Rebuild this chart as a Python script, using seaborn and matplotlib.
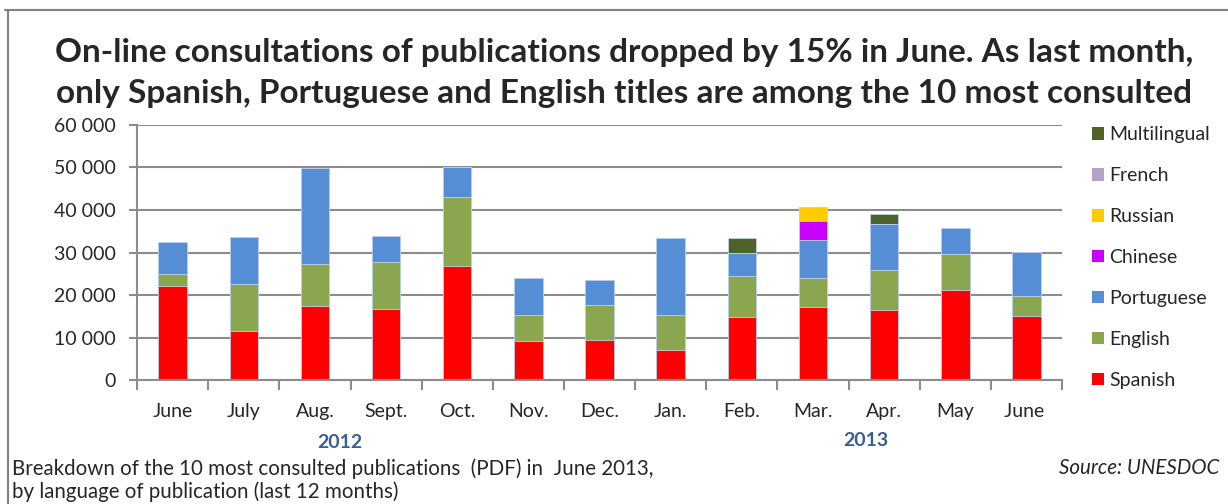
import matplotlib
matplotlib.use('Agg')
import numpy as np
import pandas as pd
import matplotlib.pyplot as plt
from matplotlib.patches import Patch
from matplotlib.lines import Line2D
import seaborn as sns

sns.set_style("white")
plt.rcParams['font.family'] = ['Lato', 'DejaVu Sans']

# ==================== data ====================
months = ['June', 'July', 'Aug.', 'Sept.', 'Oct.', 'Nov.', 'Dec.',
          'Jan.', 'Feb.', 'Mar.', 'Apr.', 'May', 'June ']
spanish = [22100, 11500, 17400, 16600, 26900, 9200, 9400, 7000, 14800, 17100, 16400, 21100, 15000]
english = [2800, 11200, 9900, 11100, 16100, 6000, 8200, 8300, 9700, 7000, 9400, 8600, 4800]
portuguese = [7500, 11000, 22500, 6200, 7200, 8900, 6000, 18100, 5500, 8800, 10900, 6100, 10400]
chinese = [0, 0, 0, 0, 0, 0, 0, 0, 0, 4400, 0, 0, 0]
russian = [0, 0, 0, 0, 0, 0, 0, 0, 0, 3500, 0, 0, 0]
french = [0] * 13
multilingual = [0, 0, 0, 0, 0, 0, 0, 0, 3400, 0, 2400, 0, 0]

languages = ['Spanish', 'English', 'Portuguese', 'Chinese', 'Russian', 'French', 'Multilingual']
colors = ['#FF0000', '#8AA64F', '#558ED5', '#CC00FF', '#FFCC00', '#B3A2C7', '#4F6228']

df = pd.DataFrame({'month': months, 'Spanish': spanish, 'English': english,
                   'Portuguese': portuguese, 'Chinese': chinese, 'Russian': russian,
                   'French': french, 'Multilingual': multilingual})
cum = df[languages].cumsum(axis=1)

fig = plt.figure(figsize=(12.28, 5.04), dpi=100)
ax = fig.add_axes([0.1116, 0.246, 0.7533, 0.506])

# stacked bars: draw cumulative tops from the top layer down
for lang, col in reversed(list(zip(languages, colors))):
    sns.barplot(x=df['month'], y=cum[lang], color=col, width=0.4,
                saturation=1, ax=ax, order=months, edgecolor='#BFD3EE', linewidth=0.6)

ax.set_ylim(0, 60000)
ax.set_xlim(-0.5, 12.5)
ax.set_yticks(np.arange(0, 60001, 10000))
ax.set_yticklabels(['0' if v == 0 else f'{v // 1000} 000' for v in range(0, 60001, 10000)])
ax.yaxis.grid(True, color='#8C8C8C', linewidth=1.5)
ax.set_axisbelow(True)
ax.set_xlabel('')
ax.set_ylabel('')
for s in ['top', 'right']:
    ax.spines[s].set_visible(False)
for s in ['left', 'bottom']:
    ax.spines[s].set_color('#8C8C8C')
    ax.spines[s].set_linewidth(1.5)
ax.tick_params(axis='y', left=True, length=6, width=1.5, color='#8C8C8C', labelsize=14, pad=9)
ax.tick_params(axis='x', bottom=False, labelsize=14, pad=13)
# Excel-style ticks between categories
ax.set_xticks(np.arange(-0.5, 13, 1), minor=True)
ax.tick_params(axis='x', which='minor', bottom=True, length=7, width=1.5, color='#8C8C8C')

fig.text(340 / 1228, 1 - 442 / 504, '2012', fontsize=14, fontweight='bold', color='#376092',
         ha='center', va='center')
fig.text(866 / 1228, 1 - 440 / 504, '2013', fontsize=14, fontweight='bold', color='#376092',
         ha='center', va='center')

fig.text(0.5085, 1 - 62 / 504, 'On-line consultations of publications dropped by 15% in June. As last month,',
         ha='center', va='baseline', fontsize=24, fontweight='bold')
fig.text(0.5085, 1 - 103 / 504, 'only Spanish, Portuguese and English titles are among the 10 most consulted',
         ha='center', va='baseline', fontsize=24, fontweight='bold')

fig.text(12 / 1228, 1 - 469 / 504, 'Breakdown of the 10 most consulted publications  (PDF) in  June 2013,',
         fontsize=14.8, va='center')
fig.text(12 / 1228, 1 - 492 / 504, 'by language of publication (last 12 months)',
         fontsize=14.8, va='center')
fig.text(1219 / 1228, 1 - 468 / 504, 'Source: UNESDOC', fontsize=14.8, style='italic',
         ha='right', va='center')

handles = [Patch(facecolor=c, edgecolor='none', label=l)
           for l, c in reversed(list(zip(languages, colors)))]
fig.legend(handles=handles, loc='upper left', bbox_to_anchor=(0.8827, 0.765),
           frameon=False, fontsize=14, handlelength=0.62, handleheight=0.62,
           handletextpad=0.3, labelspacing=1.23, borderaxespad=0)

# outer frame
fig.add_artist(Line2D([0.004, 1.0], [0.980, 0.980], color='#808080', linewidth=1.5))
fig.add_artist(Line2D([0.0065, 0.0065], [0.0, 0.980], color='#808080', linewidth=1.5))

plt.savefig('out.png', dpi=100)
plt.close()
